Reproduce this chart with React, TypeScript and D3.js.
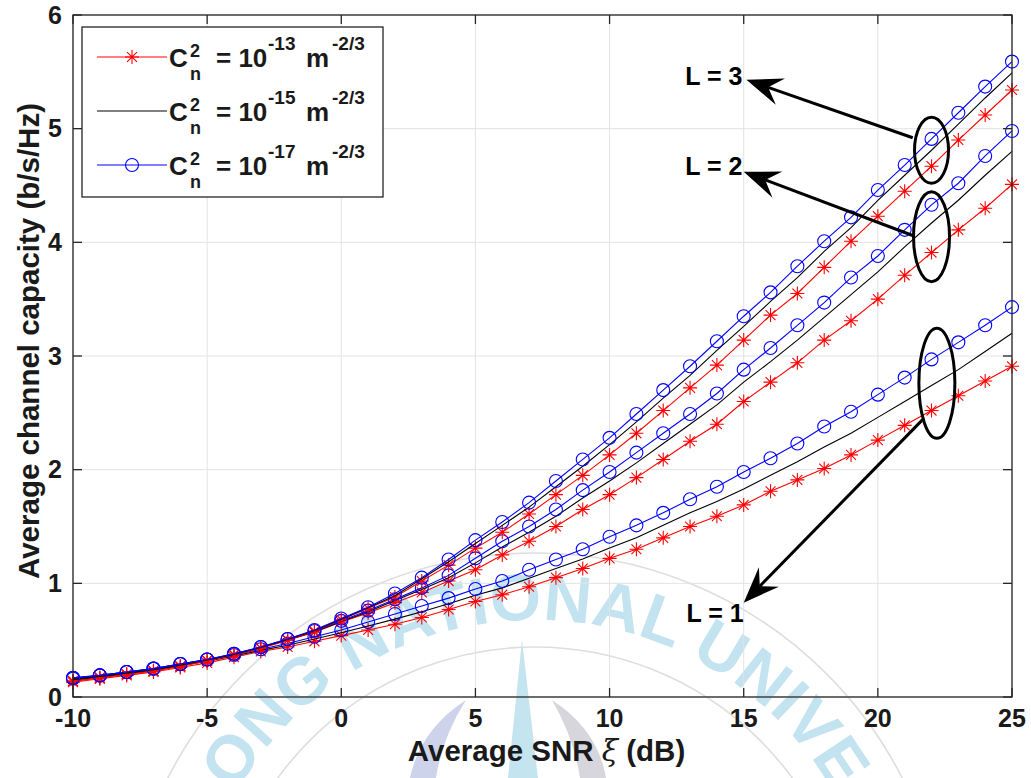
import React from "react";
import * as d3 from "d3";

// Average SNR (dB) sample points
const snrDb = [
  -10, -9, -8, -7, -6, -5, -4, -3, -2, -1, 0, 1, 2, 3, 4, 5, 6, 7, 8, 9, 10, 11,
  12, 13, 14, 15, 16, 17, 18, 19, 20, 21, 22, 23, 24, 25,
];

// L = 1
const capL1Cn13 = [
  0.13, 0.16, 0.19, 0.22, 0.26, 0.3, 0.35, 0.4, 0.44, 0.49, 0.54, 0.59, 0.64,
  0.7, 0.77, 0.84, 0.9, 0.97, 1.05, 1.13, 1.22, 1.3, 1.4, 1.5, 1.59, 1.69, 1.81,
  1.91, 2.01, 2.13, 2.26, 2.39, 2.52, 2.65, 2.78, 2.91,
];
const capL1Cn15 = [
  0.145, 0.175, 0.205, 0.235, 0.275, 0.315, 0.36, 0.41, 0.455, 0.51, 0.565,
  0.625, 0.685, 0.75, 0.82, 0.895, 0.96, 1.045, 1.13, 1.215, 1.31, 1.4, 1.51,
  1.62, 1.72, 1.83, 1.95, 2.07, 2.2, 2.32, 2.46, 2.6, 2.74, 2.88, 3.04, 3.2,
];
const capL1Cn17 = [
  0.16, 0.19, 0.22, 0.25, 0.29, 0.33, 0.37, 0.42, 0.47, 0.53, 0.59, 0.66, 0.73,
  0.8, 0.87, 0.95, 1.02, 1.12, 1.21, 1.3, 1.41, 1.51, 1.62, 1.74, 1.85, 1.98,
  2.1, 2.23, 2.38, 2.51, 2.66, 2.81, 2.97, 3.12, 3.27, 3.43,
];

// L = 2
const capL2Cn13 = [
  0.14, 0.17, 0.2, 0.23, 0.27, 0.32, 0.37, 0.43, 0.5, 0.57, 0.66, 0.74, 0.83,
  0.92, 1.02, 1.12, 1.25, 1.37, 1.5, 1.65, 1.78, 1.93, 2.09, 2.25, 2.4, 2.6,
  2.77, 2.94, 3.14, 3.31, 3.5, 3.71, 3.91, 4.11, 4.3, 4.51,
];
const capL2Cn15 = [
  0.155, 0.18, 0.21, 0.24, 0.28, 0.325, 0.375, 0.435, 0.505, 0.575, 0.665, 0.75,
  0.85, 0.945, 1.05, 1.18, 1.32, 1.45, 1.59, 1.75, 1.9, 2.06, 2.23, 2.4, 2.57,
  2.77, 2.95, 3.14, 3.34, 3.54, 3.74, 3.96, 4.17, 4.37, 4.59, 4.8,
];
const capL2Cn17 = [
  0.17, 0.19, 0.22, 0.25, 0.29, 0.33, 0.38, 0.44, 0.51, 0.58, 0.67, 0.76, 0.86,
  0.96, 1.07, 1.22, 1.37, 1.5, 1.65, 1.82, 1.98, 2.15, 2.32, 2.49, 2.67, 2.88,
  3.07, 3.27, 3.47, 3.69, 3.88, 4.11, 4.33, 4.52, 4.76, 4.98,
];

// L = 3
const capL3Cn13 = [
  0.14, 0.17, 0.2, 0.23, 0.27, 0.32, 0.37, 0.43, 0.5, 0.58, 0.68, 0.78, 0.88,
  1.02, 1.16, 1.31, 1.45, 1.61, 1.78, 1.95, 2.13, 2.32, 2.52, 2.72, 2.92, 3.14,
  3.36, 3.55, 3.78, 4.01, 4.23, 4.45, 4.67, 4.9, 5.12, 5.34,
];
const capL3Cn15 = [
  0.155, 0.18, 0.21, 0.24, 0.28, 0.325, 0.375, 0.435, 0.505, 0.585, 0.685,
  0.785, 0.89, 1.04, 1.19, 1.35, 1.51, 1.67, 1.85, 2.03, 2.22, 2.42, 2.63, 2.83,
  3.05, 3.26, 3.48, 3.69, 3.92, 4.13, 4.37, 4.59, 4.81, 5.04, 5.27, 5.49,
];
const capL3Cn17 = [
  0.17, 0.19, 0.22, 0.25, 0.29, 0.33, 0.38, 0.44, 0.51, 0.59, 0.69, 0.79, 0.91,
  1.05, 1.21, 1.38, 1.54, 1.71, 1.9, 2.09, 2.28, 2.49, 2.7, 2.91, 3.13, 3.35,
  3.56, 3.79, 4.01, 4.22, 4.46, 4.68, 4.91, 5.14, 5.37, 5.59,
];

const xTicks = [-10, -5, 0, 5, 10, 15, 20, 25];
const yTicks = [0, 1, 2, 3, 4, 5, 6];
const legendExponents = ["-13", "-15", "-17"];

const W = 1031;
const H = 778;
const box = { left: 73, right: 1012, top: 15, bottom: 697 };
const FONT = "'Liberation Sans', Arial, Helvetica, sans-serif";
const AXIS_COLOR = "#262626";
const GRID_COLOR = "#e3e3e3";

type Kind = "star" | "circle" | "none";
const seriesStyle: { color: string; kind: Kind }[] = [
  { color: "#ff0000", kind: "star" },
  { color: "#000000", kind: "none" },
  { color: "#0000ff", kind: "circle" },
];
const groups = [
  [capL1Cn13, capL1Cn15, capL1Cn17],
  [capL2Cn13, capL2Cn15, capL2Cn17],
  [capL3Cn13, capL3Cn15, capL3Cn17],
];

// Callouts in data units: ellipse around the curves at 22 dB, arrow to label
const callouts = [
  { label: "L = 1", ex: 22.2, ey: 2.76, rx: 18, ry: 55, tail: [21.67, 2.44], tip: [15.0, 0.83], tx: 15.0, ty: 0.66 },
  { label: "L = 2", ex: 22.0, ey: 4.05, rx: 18, ry: 45, tail: [21.3, 4.06], tip: [15.0, 4.62], tx: 14.95, ty: 4.59 },
  { label: "L = 3", ex: 22.0, ey: 4.81, rx: 17, ry: 33, tail: [21.3, 4.92], tip: [15.1, 5.43], tx: 14.95, ty: 5.38 },
];

function Star({ cx, cy, r, color }: { cx: number; cy: number; r: number; color: string }) {
  const d = r * Math.SQRT1_2;
  return (
    <path
      d={`M${cx - r},${cy}H${cx + r}M${cx},${cy - r}V${cy + r}M${cx - d},${cy - d}L${cx + d},${cy + d}M${cx - d},${cy + d}L${cx + d},${cy - d}`}
      stroke={color}
      strokeWidth={1.1}
      fill="none"
    />
  );
}

function Marker({ kind, cx, cy, color }: { kind: Kind; cx: number; cy: number; color: string }) {
  if (kind === "star") return <Star cx={cx} cy={cy} r={7} color={color} />;
  if (kind === "circle")
    return <circle cx={cx} cy={cy} r={6.5} fill="none" stroke={color} strokeWidth={1.1} />;
  return null;
}

function arrowPath(x0: number, y0: number, x1: number, y1: number) {
  const len = 36;
  const half = 14;
  const notch = 13;
  const dx = x0 - x1;
  const dy = y0 - y1;
  const d = Math.hypot(dx, dy);
  const ux = dx / d;
  const uy = dy / d;
  const nx = -uy;
  const ny = ux;
  const head = `M${x1},${y1}L${x1 + ux * len + nx * half},${y1 + uy * len + ny * half}L${x1 + ux * (len - notch)},${y1 + uy * (len - notch)}L${x1 + ux * len - nx * half},${y1 + uy * len - ny * half}Z`;
  const shaftEnd = [x1 + ux * (len - notch), y1 + uy * (len - notch)];
  return { head, shaft: `M${x0},${y0}L${shaftEnd[0]},${shaftEnd[1]}` };
}

function Watermark() {
  const cx = 535;
  const cy = 965;
  const R = 345;
  return (
    <g pointerEvents="none">
      <defs>
        <path id="wmArc" d={`M${cx - R},${cy} A${R},${R} 0 0 1 ${cx + R},${cy}`} />
      </defs>
      <circle cx={cx} cy={cy} r={318} fill="none" stroke="#dedede" strokeWidth={1.6} />
      <circle cx={cx} cy={cy} r={412} fill="none" stroke="#dedede" strokeWidth={1.6} />
      <path d="M522,640 L508,778 L538,778 Z" fill="#c4e4f0" />
      <path d="M466,700 Q420,730 410,778 L436,778 Q442,738 466,700 Z" fill="#cdd3ea" />
      <path d="M552,700 Q598,730 606,778 L580,778 Q574,738 552,700 Z" fill="#d6d6dc" />
      <text fontFamily={FONT} fontWeight="bold" fontSize={66} fill="#b3dceb" fillOpacity={0.8}>
        <textPath href="#wmArc" startOffset="50%" textAnchor="middle">
          ONG NATIONAL UNIVE
        </textPath>
      </text>
    </g>
  );
}

export default function App() {
  const x = d3.scaleLinear().domain([-10, 25]).range([box.left, box.right]);
  const y = d3.scaleLinear().domain([0, 6]).range([box.bottom, box.top]);
  const line = d3
    .line<number>()
    .x((_, i) => x(snrDb[i]))
    .y((v) => y(v));

  const tickLen = 9;
  const legend = { x: 82, y: 27, w: 301, h: 170 };

  return (
    <svg
      width={W}
      height={H}
      viewBox={`0 0 ${W} ${H}`}
      style={{ position: "absolute", left: 0, top: 0, background: "#fff" }}
      fontFamily={FONT}
    >
      <rect x={0} y={0} width={W} height={H} fill="#fff" />
      <Watermark />

      {/* grid */}
      <g stroke={GRID_COLOR} strokeWidth={1}>
        {xTicks.map((t) => (
          <line key={`gx${t}`} x1={x(t)} x2={x(t)} y1={box.top} y2={box.bottom} />
        ))}
        {yTicks.map((t) => (
          <line key={`gy${t}`} x1={box.left} x2={box.right} y1={y(t)} y2={y(t)} />
        ))}
      </g>

      {/* curves */}
      {groups.map((grp, gi) =>
        grp.map((vals, si) => {
          const st = seriesStyle[si];
          return (
            <g key={`s${gi}-${si}`}>
              <path d={line(vals) || ""} fill="none" stroke={st.color} strokeWidth={1.1} />
              {vals.map((v, i) => (
                <Marker key={i} kind={st.kind} cx={x(snrDb[i])} cy={y(v)} color={st.color} />
              ))}
            </g>
          );
        })
      )}

      {/* axes box and ticks */}
      <g stroke={AXIS_COLOR} strokeWidth={1.3} fill="none">
        <rect x={box.left} y={box.top} width={box.right - box.left} height={box.bottom - box.top} />
        {xTicks.map((t) => (
          <g key={`tx${t}`}>
            <line x1={x(t)} x2={x(t)} y1={box.bottom} y2={box.bottom - tickLen} />
            <line x1={x(t)} x2={x(t)} y1={box.top} y2={box.top + tickLen} />
          </g>
        ))}
        {yTicks.map((t) => (
          <g key={`ty${t}`}>
            <line x1={box.left} x2={box.left + tickLen} y1={y(t)} y2={y(t)} />
            <line x1={box.right} x2={box.right - tickLen} y1={y(t)} y2={y(t)} />
          </g>
        ))}
      </g>

      {/* tick labels */}
      <g fill="#1a1a1a" fontWeight="bold" fontSize={25}>
        {xTicks.map((t) => (
          <text key={`lx${t}`} x={x(t)} y={727} textAnchor="middle">
            {t}
          </text>
        ))}
        {yTicks.map((t) => (
          <text key={`ly${t}`} x={62} y={y(t)} dy="0.35em" textAnchor="end">
            {t}
          </text>
        ))}
      </g>

      {/* axis titles */}
      <text
        x={(box.left + box.right) / 2 + 4}
        y={761}
        textAnchor="middle"
        fontWeight="bold"
        fontSize={29.5}
        fill="#1a1a1a"
      >
        Average SNR <tspan fontStyle="italic" fontWeight="normal" fontFamily="'DejaVu Serif', serif">ξ</tspan> (dB)
      </text>
      <text
        transform={`translate(39,${341}) rotate(-90)`}
        textAnchor="middle"
        fontWeight="bold"
        fontSize={29.5}
        fill="#1a1a1a"
      >
        Average channel capacity (b/s/Hz)
      </text>

      {/* legend */}
      <g>
        <rect x={legend.x} y={legend.y} width={legend.w} height={legend.h} fill="#fff" stroke={AXIS_COLOR} strokeWidth={1.3} />
        {seriesStyle.map((st, i) => {
          const ly = 57 + i * 54;
          const base = 67 + i * 54;
          return (
            <g key={`lg${i}`}>
              <line x1={97} x2={167} y1={ly} y2={ly} stroke={st.color} strokeWidth={1.1} />
              <Marker kind={st.kind} cx={132} cy={ly} color={st.color} />
              <g fill="#1a1a1a" fontWeight="bold">
                <text x={169} y={base} fontSize={26}>C</text>
                <text x={190} y={base - 10} fontSize={18}>2</text>
                <text x={190} y={base + 13} fontSize={18}>n</text>
                <text x={216} y={base} fontSize={26}>= 10</text>
                <text x={268} y={base - 17} fontSize={19}>{legendExponents[i]}</text>
                <text x={306} y={base} fontSize={26}>m</text>
                <text x={332} y={base - 17} fontSize={19}>-2/3</text>
              </g>
            </g>
          );
        })}
      </g>

      {/* callouts */}
      {callouts.map((c) => {
        const a = arrowPath(x(c.tail[0]), y(c.tail[1]), x(c.tip[0]), y(c.tip[1]));
        return (
          <g key={c.label}>
            <ellipse cx={x(c.ex)} cy={y(c.ey)} rx={c.rx} ry={c.ry} fill="none" stroke="#000" strokeWidth={3} />
            <path d={a.shaft} stroke="#000" strokeWidth={3} fill="none" />
            <path d={a.head} fill="#000" />
            <text x={x(c.tx)} y={y(c.ty)} textAnchor="end" fontWeight="bold" fontSize={25} fill="#000">
              {c.label}
            </text>
          </g>
        );
      })}
    </svg>
  );
}
